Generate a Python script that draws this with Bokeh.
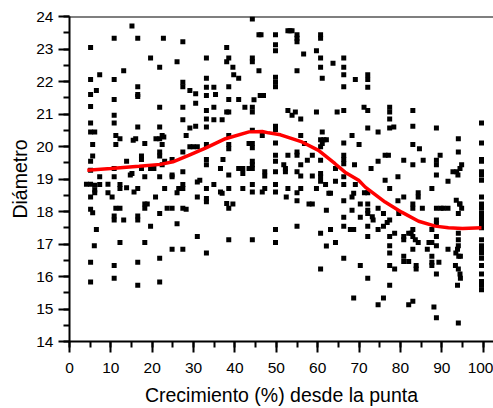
from bokeh.plotting import figure
from bokeh.models import Range1d, SingleIntervalTicker, Span
from bokeh.embed import file_html
from bokeh.resources import INLINE

# ---- data ----
pts_x = [
    5.1, 5.1, 5.1, 6.5, 7.3, 5.1, 5.1, 5.1, 6.1, 5.6, 5.6, 5.1, 5.1, 4.1, 5.1, 6.1, 6.1, 6.1, 5.1, 5.1, 5.6, 6.5, 6.0, 5.1, 5.1, 7.3, 7.3,
    9.3, 10.3, 10.8, 10.8, 10.8, 10.8, 10.8, 11.2, 11.2, 12.2, 10.8, 10.8, 11.2, 12.2, 10.8, 10.8, 12.2, 12.2, 12.2, 13.1, 13.1, 10.8, 10.8, 13.8, 13.8, 9.3,
    15.1, 16.5, 16.5, 16.5, 16.5, 16.5, 15.4, 16.0, 14.7, 15.6, 16.5, 16.5, 16.5, 16.5, 16.5, 17.4, 17.4, 17.4, 18.2, 18.2, 18.2, 18.8, 18.2, 18.2, 19.6, 19.6, 19.6, 20.4, 15.1,
    21.8, 22.7, 21.8, 21.8, 20.9, 21.8, 22.4, 22.8, 22.4, 21.8, 21.8, 23.0, 22.4, 20.8, 21.8, 23.0, 21.8, 21.8, 21.8, 24.8, 24.8, 24.8, 23.6, 24.8, 24.8, 26.0, 26.0, 26.0, 26.4,
    27.4, 27.4, 27.4, 27.4, 27.4, 27.4, 27.4, 27.4, 27.4, 27.4, 28.2, 27.4, 28.2, 29.1, 29.1, 29.1, 29.9, 30.5, 30.5, 30.5, 30.9, 31.5, 30.9, 30.9, 30.9,
    33.1, 33.1, 33.1, 33.1, 33.1, 33.1, 33.1, 33.1, 33.1, 33.1, 33.1, 33.1, 33.1, 33.1, 34.9, 35.3, 34.9, 34.9, 34.9, 36.9, 36.5, 37.1,
    38.0, 38.0, 38.5, 38.5, 38.5, 38.5, 38.0, 38.5, 38.5, 38.5, 38.5, 38.5, 38.0, 38.5, 38.5, 36.9, 36.5, 39.5, 39.5, 39.7, 40.9, 40.9, 40.9, 41.9, 41.9, 41.9, 42.4, 43.4,
    44.2, 44.2, 44.2, 44.6, 44.2, 44.2, 44.2, 44.2, 44.2, 43.4, 44.2, 44.2, 44.2, 44.2, 44.2, 44.2, 45.8, 46.3, 45.8, 46.1, 46.9, 46.6, 46.6, 47.2, 47.2, 47.2,
    49.8, 49.8, 49.8, 49.8, 49.8, 49.8, 49.8, 49.8, 49.8, 49.8, 49.8, 49.8, 49.8, 49.8, 49.8, 49.8, 51.8, 52.2, 52.2, 52.4, 52.8, 52.8, 53.3, 53.8, 53.8, 52.8, 52.8,
    55.0, 55.0, 55.0, 55.0, 54.6, 55.0, 55.0, 55.0, 55.0, 55.0, 55.0, 55.9, 55.9, 55.9, 55.9, 55.9, 56.6, 56.8, 57.5, 57.9, 58.7, 58.7, 58.7, 59.7, 59.7, 59.7,
    60.7, 60.7, 60.7, 60.7, 61.1, 61.1, 60.7, 61.5, 62.1, 61.1, 60.7, 60.7, 60.7, 60.7, 60.7, 61.9, 62.7, 63.1, 60.7, 60.7, 62.1, 62.1, 63.1, 63.7, 64.3, 64.3, 64.3, 64.7,
    66.3, 66.3, 66.3, 66.3, 66.3, 66.3, 66.3, 66.3, 66.3, 66.3, 66.3, 66.3, 66.3, 66.3, 66.3, 68.3, 68.9, 68.3, 68.7, 68.3, 67.9, 68.7, 68.7, 69.1, 70.0, 69.1, 70.3, 70.3, 70.3,
    71.2, 72.1, 72.1, 72.1, 72.1, 72.1, 72.1, 72.1, 72.1, 72.1, 72.1, 72.1, 72.1, 72.9, 73.2, 73.4, 71.3, 74.6, 74.6, 74.6, 74.6, 74.6, 75.9, 75.9, 75.9, 76.3, 76.3, 77.1, 76.8,
    77.4, 77.4, 77.4, 77.4, 78.4, 77.4, 77.4, 77.4, 77.4, 77.4, 77.4, 77.4, 78.6, 78.6, 79.4, 79.4, 79.6, 80.8, 80.8, 80.8, 80.8, 80.8, 80.8, 82.0, 82.0, 82.0,
    83.0, 83.0, 83.0, 83.0, 83.0, 83.0, 83.0, 82.6, 83.0, 83.0, 83.0, 83.6, 83.8, 83.8, 84.3, 84.6, 84.3, 84.3, 85.5, 85.3, 86.5, 86.9, 87.6, 87.6, 87.6, 87.6, 87.6, 87.6, 88.1,
    88.7, 88.7, 88.7, 88.7, 88.7, 88.7, 88.7, 88.7, 88.7, 89.3, 88.7, 88.7, 89.6, 89.8, 90.4, 91.5, 91.5, 91.5, 92.7,
    94.0, 94.0, 93.6, 93.9, 94.4, 94.8, 93.5, 94.3, 94.4, 94.8, 94.0, 94.0, 94.0, 94.0, 93.8, 93.4, 94.1, 94.5, 93.3, 94.0, 94.4, 94.5, 93.8, 94.0,
    99.6, 99.6, 99.6, 99.6, 99.6, 99.6, 99.6, 99.6, 99.6, 99.6, 99.6, 99.6, 99.6, 99.6, 99.6, 99.6, 99.6, 99.6, 99.6, 99.6, 99.6, 99.6, 99.6, 99.6, 99.6,
]
pts_y = [
    23.05, 22.06, 21.6, 21.72, 22.21, 21.23, 20.72, 20.45, 20.45, 20.06, 19.71, 19.55, 19.27, 18.84, 18.84, 18.81, 18.66, 18.58, 18.45, 18.07, 17.96, 17.45, 16.95, 16.44, 15.83, 19.07, 18.83,
    18.58, 18.45, 23.33, 22.06, 21.45, 20.96, 20.72, 20.34, 20.06, 20.24, 19.32, 19.07, 18.1, 18.1, 17.86, 17.74, 18.83, 18.71, 17.05, 22.33, 17.74, 16.34, 15.95, 19.55, 18.73, 18.84,
    23.71, 23.33, 21.84, 21.6, 21.54, 20.6, 20.19, 20.24, 19.12, 18.6, 18.71, 17.86, 17.74, 16.44, 15.73, 19.71, 19.6, 19.32, 20.09, 19.07, 18.23, 18.23, 18.1, 17.05, 22.72, 19.32, 17.55, 19.32, 19.17,
    22.44, 23.33, 21.21, 20.6, 20.24, 20.24, 20.34, 20.29, 20.06, 19.83, 19.71, 19.55, 19.44, 18.45, 19.07, 18.71, 17.94, 16.56, 15.83, 19.6, 19.12, 19.07, 18.1, 18.1, 16.84, 22.61, 18.58, 17.62, 18.71,
    23.22, 21.98, 21.84, 21.21, 20.82, 19.83, 19.22, 18.83, 18.71, 18.1, 18.07, 16.84, 20.34, 21.72, 20.57, 19.99, 19.99, 21.62, 21.33, 20.62, 18.91, 18.96, 18.45, 17.23, 19.99,
    22.72, 22.1, 21.82, 21.57, 21.11, 20.85, 20.6, 20.06, 19.6, 19.44, 18.71, 18.4, 18.3, 16.72, 21.82, 21.6, 21.21, 20.82, 18.83, 20.82, 18.6, 19.6,
    23.05, 22.61, 22.72, 21.84, 21.45, 21.06, 21.06, 20.34, 20.06, 19.93, 19.12, 18.71, 18.25, 18.1, 17.13, 18.56, 19.32, 18.23, 22.44, 22.21, 22.1, 21.45, 19.32, 19.32, 19.17, 18.71, 21.21, 19.32,
    23.92, 22.72, 22.61, 21.44, 21.21, 21.06, 20.5, 20.09, 19.96, 20.09, 19.55, 19.44, 19.32, 18.83, 18.6, 17.13, 23.44, 23.44, 22.33, 21.57, 21.57, 20.34, 18.6, 19.22, 19.09, 18.71,
    23.44, 23.13, 22.95, 22.13, 21.98, 21.84, 20.62, 20.52, 20.11, 19.73, 19.55, 19.22, 18.83, 18.6, 17.45, 17.05, 19.44, 19.32, 19.22, 18.45, 21.11, 23.56, 23.56, 23.56, 20.96, 19.73, 18.71,
    23.44, 23.33, 23.22, 22.33, 21.06, 19.83, 19.73, 19.22, 18.58, 18.33, 17.55, 20.85, 20.34, 19.44, 19.09, 18.71, 22.85, 20.09, 19.58, 18.23, 18.23, 19.09, 19.73, 18.71, 21.06, 22.95,
    23.44, 23.33, 22.72, 22.44, 22.1, 20.45, 20.21, 20.21, 20.21, 20.09, 19.99, 19.58, 19.17, 19.07, 18.93, 18.83, 18.56, 18.56, 17.33, 16.23, 18.04, 16.94, 17.45, 22.56, 19.32, 18.93, 17.05, 21.06,
    22.72, 22.44, 22.21, 21.84, 21.11, 20.11, 19.73, 19.6, 19.47, 19.07, 18.83, 18.33, 17.82, 17.55, 16.56, 20.34, 19.44, 18.45, 18.56, 18.04, 17.45, 17.45, 15.34, 22.06, 20.06, 18.83, 18.23, 17.82, 16.34,
    21.21, 21.11, 22.21, 22.06, 21.82, 20.57, 18.58, 18.23, 18.04, 17.94, 17.55, 17.23, 15.95, 19.32, 17.84, 17.74, 18.58, 20.45, 19.55, 18.1, 17.45, 15.13, 15.34, 17.94, 17.55, 18.96, 19.73, 19.73, 17.66,
    21.21, 21.06, 20.85, 20.57, 20.6, 18.71, 17.74, 17.23, 16.95, 16.72, 16.34, 15.73, 17.33, 16.23, 19.07, 18.33, 17.94, 18.45, 19.58, 17.23, 17.13, 16.62, 16.46, 16.46, 17.33, 15.13,
    21.11, 20.62, 20.06, 19.44, 18.23, 18.1, 17.45, 17.33, 17.23, 16.84, 15.24, 17.13, 16.34, 16.23, 17.05, 19.93, 18.58, 18.45, 19.58, 18.1, 16.84, 17.05, 18.71, 17.45, 17.05, 16.62, 16.44, 16.34, 15.06,
    20.57, 19.58, 19.44, 19.12, 18.1, 17.74, 17.62, 17.23, 16.95, 16.44, 16.08, 14.73, 19.73, 18.1, 18.1, 18.1, 18.93, 16.84, 19.22,
    20.24, 19.83, 19.22, 19.12, 19.32, 19.44, 18.35, 18.23, 18.23, 18.1, 17.94, 17.33, 17.13, 16.95, 16.84, 16.72, 16.62, 16.62, 16.34, 16.23, 16.08, 15.95, 15.73, 14.57,
    20.72, 20.11, 19.6, 19.55, 19.22, 19.12, 18.96, 18.45, 18.23, 18.1, 17.94, 17.84, 17.74, 17.62, 17.5, 17.13, 16.95, 16.84, 16.72, 16.56, 16.34, 16.08, 15.85, 15.73, 15.59,
]

fit_x = [4.3, 10, 16.8, 22, 25, 28.8, 33, 37.7, 43.4, 46.6, 48.1, 51, 56.2, 60.2, 64.2,
         66.6, 69.9, 71.5, 76.3, 80.3, 84.4, 88.4, 91.6, 95, 99.6]
fit_y = [19.27, 19.32, 19.39, 19.45, 19.53, 19.73, 19.96, 20.24, 20.45, 20.46, 20.42, 20.36, 20.14, 19.88, 19.47,
         19.21, 18.96, 18.75, 18.29, 17.98, 17.70, 17.55, 17.50, 17.48, 17.50]

x_label = "Crecimiento (%) desde la punta"
y_label = "Diámetro"

FONT = "Liberation Sans"

p = figure(width=493, height=408, output_backend="svg", toolbar_location=None,
           x_range=Range1d(0, 102.5), y_range=Range1d(14, 24),
           min_border_left=69, min_border_right=0, min_border_top=16, min_border_bottom=66)
p.outline_line_color = None
p.xgrid.visible = False
p.ygrid.visible = False
p.background_fill_color = "white"
p.border_fill_color = "white"

p.scatter(pts_x, pts_y, marker="square", size=5, fill_color="black", line_color=None)
p.line(fit_x, fit_y, line_color="#ff0000", line_width=3.5)

p.add_layout(Span(location=24, dimension="width", line_color="black", line_width=2))

p.xaxis.ticker = SingleIntervalTicker(interval=10, num_minor_ticks=2)
p.yaxis.ticker = SingleIntervalTicker(interval=1, num_minor_ticks=2)

for ax in (p.xaxis[0], p.yaxis[0]):
    ax.axis_line_width = 2
    ax.axis_line_color = "black"
    ax.major_tick_line_width = 2
    ax.minor_tick_line_width = 2
    ax.major_tick_out = 11
    ax.major_tick_in = 0
    ax.minor_tick_out = 6
    ax.minor_tick_in = 0
    ax.major_label_text_font = FONT
    ax.major_label_text_font_size = "15.5px"
    ax.major_label_text_color = "black"
    ax.axis_label_text_font = FONT
    ax.axis_label_text_font_size = "19.5px"
    ax.axis_label_text_font_style = "normal"
    ax.axis_label_text_color = "black"

p.xaxis.major_label_standoff = 10
p.yaxis.major_label_standoff = 5
p.xaxis.axis_label = x_label
p.yaxis.axis_label = y_label
p.xaxis.axis_label_standoff = 8
p.yaxis.axis_label_standoff = 2

open("out.html", "w").write(file_html(p, INLINE))
